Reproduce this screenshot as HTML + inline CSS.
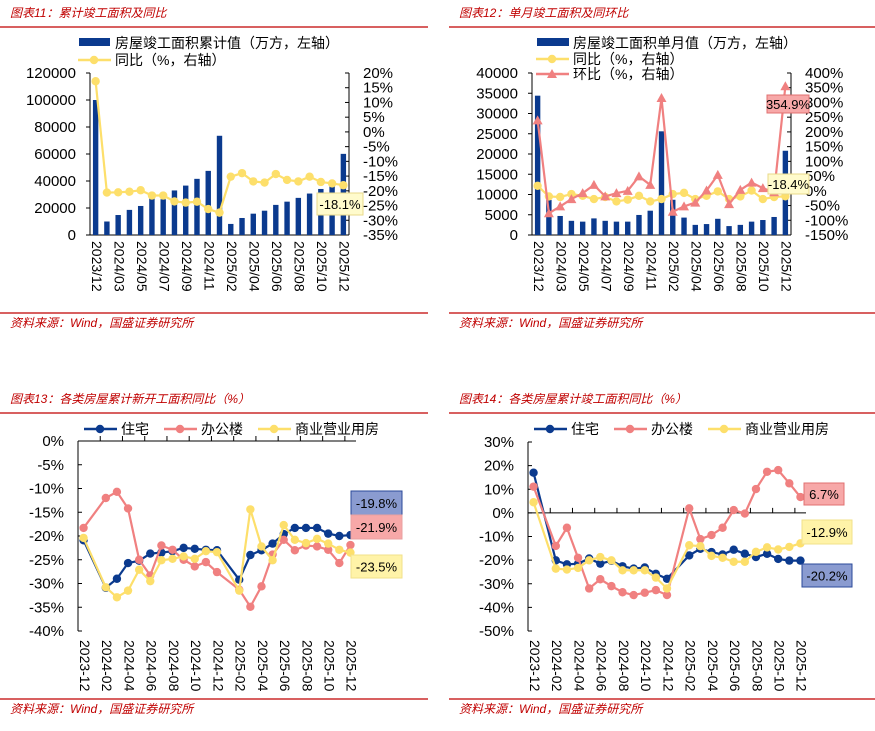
<!DOCTYPE html>
<html><head><meta charset="utf-8">
<style>
body{margin:0;background:#fff;width:875px;height:731px;overflow:hidden;font-family:"Liberation Sans","Noto Sans CJK SC",sans-serif;}
svg{position:absolute;left:0;top:0}
</style></head>
<body>
<svg id="s" width="875" height="731" xmlns="http://www.w3.org/2000/svg"></svg>
<script>
const cats1 = ["2023/12","2024/02","2024/03","2024/04","2024/05","2024/06","2024/07","2024/08","2024/09","2024/10","2024/11","2024/12","2025/02","2025/03","2025/04","2025/05","2025/06","2025/07","2025/08","2025/09","2025/10","2025/11","2025/12"];
const cumArea = [100000,10000,14800,18600,21500,27200,26500,33000,36600,41600,47500,73500,8200,12600,15800,18000,22300,24700,27500,30700,34100,36000,60100];
const cumYoy = [17.2,-20.6,-20.5,-20.3,-19.8,-21.6,-21.6,-23.6,-24,-23.7,-26.2,-27.4,-15.2,-14,-16.8,-17.2,-14.3,-16.3,-16.8,-15.2,-17,-17.5,-18.1];
const monArea = [34400,8660,4700,3500,3300,4100,3500,3300,3300,4950,6000,25600,8700,4300,2500,2700,4000,2200,2500,3300,3700,4450,20800];
const monYoy = [17,-19,-21,-11,-17,-28,-21,-36,-30,-17,-36,-28,-11,-7,-28,-17,-2,-28,-19,1,-28,-21,-18.4];
const monMom = [239,-76,-53,-28,-8,20,-19,-8,0,49,20,315,-71,-53,-40,1,54,-45,3,28,9,-5,354.9];
const cats3 = ["2023-12","2024-01","2024-02","2024-03","2024-04","2024-05","2024-06","2024-07","2024-08","2024-09","2024-10","2024-11","2024-12","2025-01","2025-02","2025-03","2025-04","2025-05","2025-06","2025-07","2025-08","2025-09","2025-10","2025-11","2025-12"];
const newRes = [-20.9,null,-30.9,-29,-25.7,-25.2,-23.7,-23.5,-23.2,-22.5,-22.7,-22.9,-23,null,-29.2,-24,-23,-21.6,-19.6,-18.3,-18.3,-18.3,-19.5,-20,-19.8];
const newOff = [-18.3,null,-12,-10.7,-14.2,-25,-28.3,-22,-22.9,-25,-26.4,-25.5,-27.6,null,-31.3,-34.9,-30.6,-23.9,-20.8,-23,-22,-22.2,-22.9,-25.7,-21.9];
const newCom = [-20.4,null,-30.8,-32.9,-31.5,-27.1,-29.5,-25.1,-24.8,-24.3,-24.8,-23.2,-23.4,null,-31.5,-14.4,-22.2,-25.1,-17.7,-20.8,-21.5,-20.6,-21.6,-22.9,-23.5];
const compRes = [17,null,-20.1,-21.8,-21.5,-19.3,-21.5,-20.3,-22.6,-23.6,-23.1,-25.8,-27.9,null,-18,-15.2,-16.6,-17.6,-15.6,-17.3,-18.7,-17.3,-19.5,-20.2,-20.2];
const compOff = [11.1,null,-14,-6.3,-19,-32,-28.1,-31,-33.6,-34.8,-33.8,-32.7,-34.8,null,1.9,-11.1,-9.4,-6.3,1.2,-0.3,10.1,17.4,18.1,12.5,6.7];
const compCom = [4.5,null,-23.6,-24,-23.3,-20.1,-18.7,-20.1,-24.3,-24.3,-24.3,-27.4,-32,null,-13.7,-14.1,-18.2,-19,-20.7,-20.7,-16.5,-14.6,-15.5,-14.4,-12.9];
const ticks1L=[0,20000,40000,60000,80000,100000,120000];
const ticks1R=[20,15,10,5,0,-5,-10,-15,-20,-25,-30,-35];
const ticks2L=[0,5000,10000,15000,20000,25000,30000,35000,40000];
const ticks2R=[400,350,300,250,200,150,100,50,0,-50,-100,-150];
const ticks3=[0,-5,-10,-15,-20,-25,-30,-35,-40];
const ticks4=[30,20,10,0,-10,-20,-30,-40,-50];

const S=document.getElementById('s');const NS="http://www.w3.org/2000/svg";
function mk(t,a,txt){const e=document.createElementNS(NS,t);for(const k in a)e.setAttribute(k,a[k]);if(txt!==undefined)e.textContent=txt;S.appendChild(e);return e;}
const BLUE="#0b3a8e",YEL="#fddf6b",PINK="#f08080",RED="#c00000";
const FONT='"Liberation Sans","Noto Sans CJK SC",sans-serif';

function frame(x0,x1,ty,title,ly,sy){
  let t=mk('text',{x:x0+10,y:ty,'font-size':12,fill:RED,'font-style':'italic','font-family':FONT},title);
  
  let l=mk('line',{x1:x0,x2:x1,y1:ly,y2:ly,stroke:RED,'stroke-width':1.2});
  
  let l2=mk('line',{x1:x0,x2:x1,y1:sy,y2:sy,stroke:RED,'stroke-width':1.2});
  
  let s=mk('text',{x:x0+10,y:sy+14,'font-size':12,fill:RED,'font-style':'italic','font-family':FONT},'资料来源：Wind，国盛证券研究所');
  
}
frame(0,428,17,'图表11：累计竣工面积及同比',27,313);
frame(449,875,17,'图表12：单月竣工面积及同环比',27,313);
frame(0,428,403,'图表13：各类房屋累计新开工面积同比（%）',413,699);
frame(449,875,403,'图表14：各类房屋累计竣工面积同比（%）',413,699);

function xlabels(cats,xf,yTop,every){
  cats.forEach((c,i)=>{ if(i%every)return;
    const t=mk('text',{x:xf(i),y:yTop,'font-size':14,fill:'#000','font-family':FONT,'writing-mode':'tb','style':'writing-mode:vertical-rl;','dominant-baseline':'middle'},c);
    
  });
}
function lineSeries(vals,xf,yf,color,marker,name){
  let d='';let started=false;
  vals.forEach((v,i)=>{if(v===null)return;d+=(started?'L':'M')+xf(i)+','+yf(v);started=true;});
  const p=mk('path',{d:d,fill:'none',stroke:color,'stroke-width':2.2});
  
  vals.forEach((v,i)=>{if(v===null)return;const x=xf(i),y=yf(v);let m;
    if(marker==='tri'){m=mk('path',{d:`M${x},${y-5}L${x+5},${y+4}L${x-5},${y+4}Z`,fill:color});}
    else m=mk('circle',{cx:x,cy:y,r:4.2,fill:color});
    });
}
function callout(x,y,w,h,txt,fill,stroke,name){
  const r=mk('rect',{x:x,y:y,width:w,height:h,fill:fill,stroke:stroke,'stroke-width':1});
  
  const t=mk('text',{x:x+w/2,y:y+h/2+5,'font-size':13,'text-anchor':'middle','font-family':FONT,fill:'#000'},txt);
  
}
function legLine(x,y,color,marker,label,name){
  const l=mk('line',{x1:x,x2:x+33,y1:y,y2:y,stroke:color,'stroke-width':2.5});
  
  let m; if(marker==='tri') m=mk('path',{d:`M${x+16},${y-5}L${x+21},${y+4}L${x+11},${y+4}Z`,fill:color});
  else m=mk('circle',{cx:x+16,cy:y,r:4.2,fill:color});
  
  const t=mk('text',{x:x+37,y:y+5,'font-size':14,'font-family':FONT},label);
  
}

function barPanel(ax0,ax1,top,bot,lmax,rmin,rmax,ticksL,ticksR,bars,lines){
  const n=cats1.length,st=(ax1-ax0)/n;
  const xf=i=>ax0+st*(i+0.5);
  const yL=v=>bot-(v/lmax)*(bot-top);
  const yR=v=>bot-(v-rmin)/(rmax-rmin)*(bot-top);
  mk('line',{x1:ax0,x2:ax0,y1:top,y2:bot,stroke:'#000'});
  mk('line',{x1:ax1,x2:ax1,y1:top,y2:bot,stroke:'#000'});
  mk('line',{x1:ax0,x2:ax1,y1:bot,y2:bot,stroke:'#000'});
  ticksL.forEach(v=>{mk('line',{x1:ax0-4,x2:ax0,y1:yL(v),y2:yL(v),stroke:'#000'});
    const t=mk('text',{x:ax0-14,y:yL(v)+5,'font-size':15,'text-anchor':'end','font-family':FONT},v);
    });
  ticksR.forEach(v=>{mk('line',{x1:ax1-4,x2:ax1,y1:yR(v),y2:yR(v),stroke:'#000'});
    const t=mk('text',{x:ax1+14,y:yR(v)+5,'font-size':15,'font-family':FONT},v+'%');
    });
  bars.forEach((v,i)=>{const r=mk('rect',{x:xf(i)-2.7,y:yL(v),width:5.4,height:bot-yL(v),fill:BLUE});
    });
  lines.forEach(L=>lineSeries(L.v,xf,yR,L.c,L.m,L.n));
  xlabels(cats1,xf,bot+6,2);
}
barPanel(90,349,73,235,120000,-35,20,ticks1L,ticks1R,cumArea,[{v:cumYoy,c:YEL,m:'c',n:'yoy'}]);
let r=mk('rect',{x:79,y:38,width:31,height:8,fill:BLUE});
let t=mk('text',{x:115,y:48,'font-size':14,'font-family':FONT},'房屋竣工面积累计值（万方，左轴）');
legLine(78,60,YEL,'c','同比（%，右轴）','yoy');
callout(317,193,46,22,'-18.1%','#fffbcc','#e8d98a','yoy-callout');

barPanel(532,791,73,235,40000,-150,400,ticks2L,ticks2R,monArea,[{v:monYoy,c:YEL,m:'c',n:'yoy'},{v:monMom,c:PINK,m:'tri',n:'mom'}]);
r=mk('rect',{x:537,y:38,width:32,height:8,fill:BLUE});
t=mk('text',{x:573,y:48,'font-size':14,'font-family':FONT},'房屋竣工面积单月值（万方，左轴）');
legLine(536,59,YEL,'c','同比（%，右轴）','yoy');
legLine(536,74,PINK,'tri','环比（%，右轴）','mom');
callout(767,95,42,18,'354.9%','#f7a8a8','#e07070','mom-callout');
callout(768,174,41,20,'-18.4%','#fffbcc','#e8d98a','yoy-callout');

function linePanel(ax0,ax1,top,bot,vmax,vmin,ticks,series){
  const n=cats3.length,st=(ax1-ax0)/n;
  const xf=i=>ax0+st*(i+0.5);
  const yf=v=>top+(vmax-v)/(vmax-vmin)*(bot-top);
  mk('line',{x1:ax0,x2:ax0,y1:top,y2:bot,stroke:'#000'});
  const y0=yf(0);
  mk('line',{x1:ax0,x2:ax1,y1:y0,y2:y0,stroke:'#000'});
  for(let i=2;i<n;i+=2){mk('line',{x1:ax0+st*i,x2:ax0+st*i,y1:y0-5,y2:y0,stroke:'#000'});}
  ticks.forEach(v=>{mk('line',{x1:ax0,x2:ax0+4,y1:yf(v),y2:yf(v),stroke:'#000'});
    const t=mk('text',{x:ax0-14,y:yf(v)+5,'font-size':15,'text-anchor':'end','font-family':FONT},v+'%');
    });
  series.forEach(L=>lineSeries(L.v,xf,yf,L.c,'c',L.n));
  xlabels(cats3,xf,bot+9,2);
}
linePanel(78,356,441,631,0,-40,ticks3,[{v:newRes,c:BLUE,n:'residential'},{v:newOff,c:PINK,n:'office'},{v:newCom,c:YEL,n:'commercial'}]);
legLine(84,429,BLUE,'c','住宅','residential');
legLine(164,429,PINK,'c','办公楼','office');
legLine(258,429,YEL,'c','商业营业用房','commercial');
callout(351,491,51,24,'-19.8%','#8a9bd0','#2b4a9a','residential-callout');
callout(351,515,51,24,'-21.9%','#f7a8a8','#e8a0a0','office-callout');
callout(351,555,51,23,'-23.5%','#fff3a8','#f2e08a','commercial-callout');

linePanel(528,806,442,631,30,-50,ticks4,[{v:compRes,c:BLUE,n:'residential'},{v:compOff,c:PINK,n:'office'},{v:compCom,c:YEL,n:'commercial'}]);
legLine(534,429,BLUE,'c','住宅','residential');
legLine(614,429,PINK,'c','办公楼','office');
legLine(708,429,YEL,'c','商业营业用房','commercial');
callout(804,483,40,22,'6.7%','#f7a8a8','#e07070','office-callout');
callout(802,520,50,24,'-12.9%','#fff3a8','#f2e08a','commercial-callout');
callout(802,564,50,23,'-20.2%','#8a9bd0','#2b4a9a','residential-callout');
</script>
</body></html>
